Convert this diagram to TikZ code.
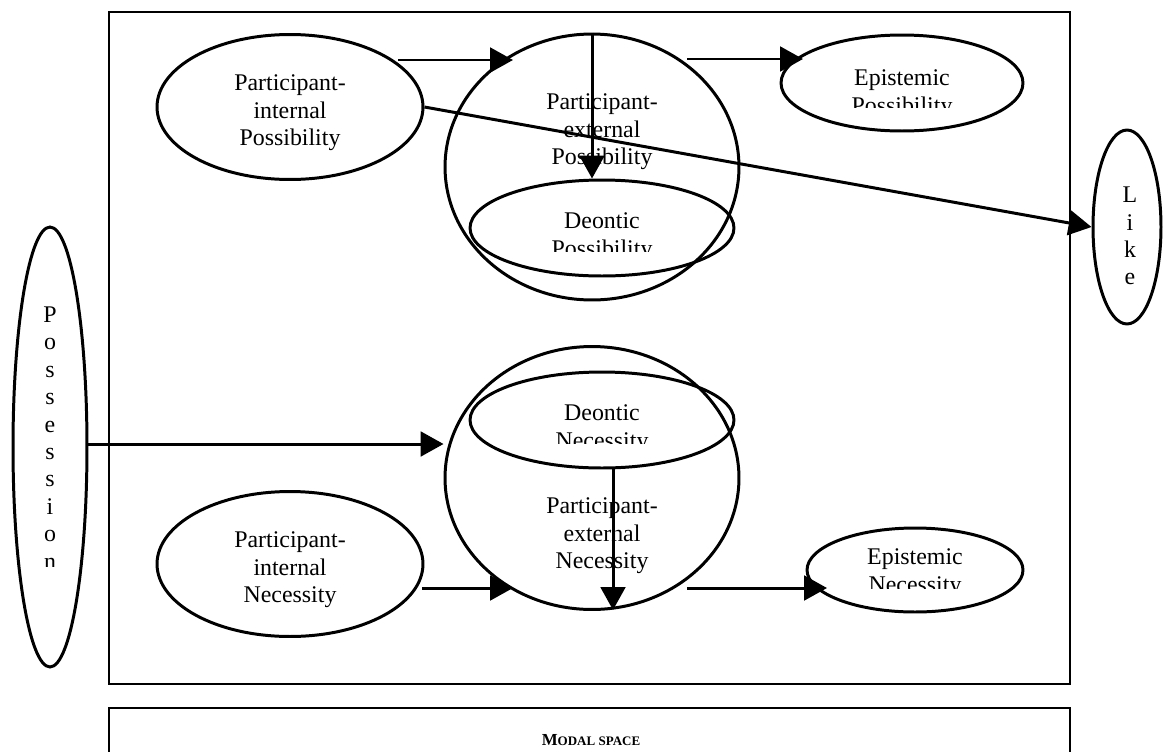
\documentclass[tikz,border=0pt]{standalone}
\usepackage{fontspec}
\setmainfont{Liberation Serif}
\usetikzlibrary{positioning,shapes.geometric,arrows.meta,calc}

\begin{document}
\begin{tikzpicture}[
	x=0.02cm, y=-0.02cm,
	modnode/.style={ellipse, draw=black, line width=1.7pt, inner sep=0pt},
	modtext/.style={inner sep=0pt, align=center, font=\fontsize{13.6}{15.6}\selectfont},
	arr/.style={-{Triangle[length=13pt,width=14pt]}, line width=1.7pt},
	frame/.style={draw=black, line width=1.1pt},
	]
	\useasboundingbox (0,0) rectangle (1163,751);
	\clip (0,0) rectangle (1163,751);
	
	%Frames
	\draw[frame] (109,12) rectangle (1070,684);
	\draw[frame] (109,708) rectangle (1070,790);
	\node[font=\bfseries\fontsize{9.6}{11}\selectfont] (space) at (591,740) {M{\fontsize{7.4}{9}\selectfont ODAL SPACE}};
	
	%Nodes
	\node[modnode, minimum width=5.32cm, minimum height=2.9cm] (pip) at (290,107) {};
	\node[modnode, minimum width=5.88cm, minimum height=5.32cm] (pep) at (592,167) {};
	\node[modnode, minimum width=5.28cm, minimum height=1.92cm] (dp) at (602,228) {};
	\node[modnode, minimum width=4.84cm, minimum height=1.92cm] (ep) at (902,83) {};
	\node[modnode, minimum width=1.36cm, minimum height=3.88cm] (like) at (1127,227) {};
	\node[modnode, minimum width=1.48cm, minimum height=8.8cm] (poss) at (50,447) {};
	\node[modnode, minimum width=5.88cm, minimum height=5.26cm] (pen) at (592,478) {};
	\node[modnode, minimum width=5.28cm, minimum height=1.92cm] (dn) at (602,420) {};
	\node[modnode, minimum width=5.32cm, minimum height=2.9cm] (pin) at (290,564) {};
	\node[modnode, minimum width=4.32cm, minimum height=1.68cm] (en) at (915,570) {};
	
	%Labels
	\node[modtext] (pip-txt) at (290,113) {Participant-\\internal\\Possibility};
	\node[modtext] (pin-txt) at (290,570) {Participant-\\internal\\Necessity};
	\node[modtext] (pep-txt) at (602,132) {Participant-\\external\\Possibility};
	\node[modtext] (pen-txt) at (602,536) {Participant-\\external\\Necessity};
	\node[modtext] (like-txt) at (1130,236) {L\\i\\k\\e};
	\begin{scope}
		\clip (781,40) rectangle (1023,107.5);
		\node[modtext] (ep-txt) at (902,94) {Epistemic\\Possibility};
	\end{scope}
	\begin{scope}
		\clip (470,190) rectangle (734,251);
		\node[modtext] (dp-txt) at (602,237) {Deontic\\Possibility};
	\end{scope}
	\begin{scope}
		\clip (469,380) rectangle (735,443);
		\node[modtext] (dn-txt) at (602,429) {Deontic\\Necessity};
	\end{scope}
	\begin{scope}
		\clip (807,535) rectangle (1023,588.5);
		\node[modtext] (en-txt) at (915,573) {Epistemic\\Necessity};
	\end{scope}
	\begin{scope}
		\clip (14,290) rectangle (86,566);
		\node[modtext] (poss-txt) at (50,438) {P\\o\\s\\s\\e\\s\\s\\i\\o\\n};
	\end{scope}
	
	%Lines
	\draw[arr] ($(pip.center)+(108,-47)$) -- ($(pep.center)+(-79,-107)$);
	\draw[arr] (pep.north) -- (pep.north |- dp.north);
	\draw[arr] ($(pep.center)+(95,-108)$) -- ($(ep.center)+(-99,-24)$);
	\draw[arr] (pip.east) -- (like.west);
	\draw[arr] ($(poss.east)+(0,-3)$) -- ($(poss.east -| pen.west)+(0,-3)$);
	\draw[arr] ($(pin.center)+(132,24)$) -- ($(pen.center)+(-79,110)$);
	\draw[arr] ($(dn.south)+(11,0)$) -- ($(pen.south)+(21,-1)$);
	\draw[arr] ($(pen.center)+(95,110)$) -- ($(en.center)+(-88,18)$);
\end{tikzpicture}
\end{document}
